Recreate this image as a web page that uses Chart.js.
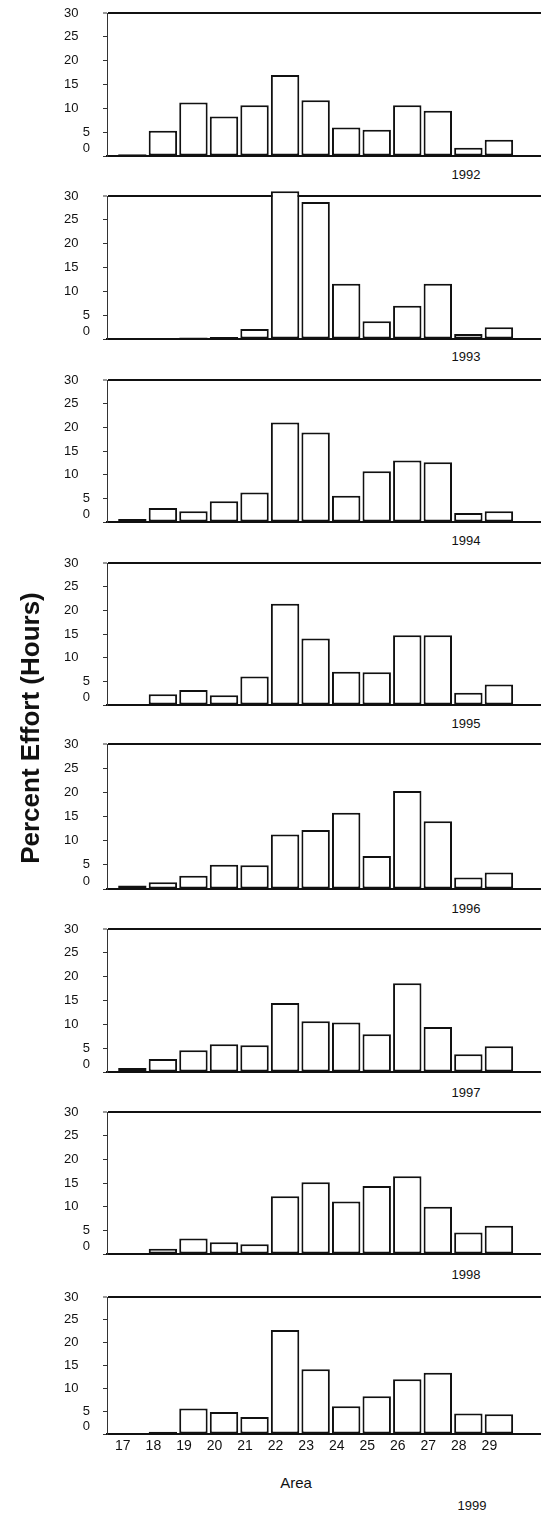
<!DOCTYPE html>
<html><head><meta charset="utf-8">
<script src="https://cdn.jsdelivr.net/npm/chart.js@4.4.1/dist/chart.umd.min.js"></script>
<style>
html,body{margin:0;padding:0;background:#fff;overflow:hidden;width:541px;height:1513px;position:relative;}
.panel{position:absolute;left:0;}
.lbl{position:absolute;font-family:"Liberation Sans",Arial,sans-serif;color:#111;white-space:nowrap;text-align:center;}
</style></head><body>
<script>
// ---- data ----
const areas = [17,18,19,20,21,22,23,24,25,26,27,28,29];
const xTickLabels = ['17','18','19','20','21','22','23','24','25','26','27','28','29'];
const yTickValues = [0,5,10,15,20,25,30];
const yTickLabels = ['0','5','10','15','20','25','30'];
const years = ['1992','1993','1994','1995','1996','1997','1998','1999'];
const effort1992 = [0.35,5.3,11.2,8.3,10.65,17.0,11.7,6.0,5.5,10.65,9.5,1.75,3.4];
const effort1993 = [0,0,0.3,0.4,2.1,31.0,28.75,11.6,3.7,7.0,11.6,1.05,2.45];
const effort1994 = [0.63,2.95,2.25,4.4,6.25,21.0,18.9,5.55,10.7,13.0,12.6,1.9,2.25];
const effort1995 = [0,2.25,3.15,2.05,6.0,21.4,14.05,7.0,6.9,14.75,14.75,2.6,4.35];
const effort1996 = [0.7,1.4,2.75,5.0,4.9,11.3,12.2,15.8,6.85,20.3,14.0,2.4,3.4];
const effort1997 = [0.85,2.75,4.55,5.8,5.6,14.5,10.65,10.4,7.9,18.6,9.45,3.7,5.4];
const effort1998 = [0,1.1,3.3,2.5,2.05,12.2,15.15,11.1,14.35,16.45,10.0,4.55,5.95];
const effort1999 = [0,0.5,5.6,4.8,3.7,22.8,14.2,6.05,8.25,12.0,13.4,4.5,4.3];
const seriesByYear = [effort1992,effort1993,effort1994,effort1995,effort1996,effort1997,effort1998,effort1999];
const yAxisTitle = 'Percent Effort (Hours)';
const xAxisTitle = 'Area';

// ---- layout ----
const panelTop  = [13,196,380,563,744,929,1112,1297];
const panelBase = [156,339,522,705,889,1072,1254,1434];
const yearX = [466,466,466,466,466,466,466,472];
const yearY = [174,356,540,723,908,1092,1274,1505];
const PAD_TOP = 8, CANVAS_W = 560, Y_W = 107;
const FONT = '"Liberation Sans", Arial, sans-serif';

const yLabelPlugin = {
  id: 'yLabels',
  afterDraw(chart) {
    const s = chart.scales.y, ctx = chart.ctx;
    ctx.save();
    ctx.font = '13px ' + FONT;
    ctx.fillStyle = '#111';
    ctx.textAlign = 'right';
    ctx.textBaseline = 'middle';
    yTickValues.forEach((v, i) => {
      const x = v < 10 ? s.right - 17 : s.right - 28.5;
      const y = s.getPixelForValue(v) - (v === 0 ? 8 : 0);
      ctx.fillText(yTickLabels[i], x, y);
    });
    ctx.restore();
  }
};

function addLabel(text, cx, cy, size, weight) {
  const d = document.createElement('div');
  d.className = 'lbl';
  d.textContent = text;
  d.style.fontSize = size + 'px';
  d.style.lineHeight = size + 'px';
  d.style.fontWeight = weight || 'normal';
  d.style.width = '120px';
  d.style.left = (cx - 60) + 'px';
  d.style.top = (cy - size / 2) + 'px';
  document.body.appendChild(d);
  return d;
}

seriesByYear.forEach((vals, p) => {
  const last = p === seriesByYear.length - 1;
  const xh = last ? 30 : 2;
  const h = PAD_TOP + (panelBase[p] - panelTop[p]) + xh;
  const wrap = document.createElement('div');
  wrap.className = 'panel';
  wrap.style.top = (panelTop[p] - PAD_TOP) + 'px';
  wrap.style.width = CANVAS_W + 'px';
  wrap.style.height = h + 'px';
  const cv = document.createElement('canvas');
  cv.width = CANVAS_W; cv.height = h;
  cv.style.width = CANVAS_W + 'px'; cv.style.height = h + 'px';
  wrap.appendChild(cv);
  document.body.appendChild(wrap);

  new Chart(cv, {
    type: 'bar',
    data: {
      datasets: [{
        data: areas.map((a, i) => ({ x: a, y: vals[i] })),
        backgroundColor: '#ffffff',
        borderColor: '#111111',
        borderWidth: 2,
        borderSkipped: false,
        barPercentage: 0.93,
        categoryPercentage: 1,
        clip: false
      }]
    },
    options: {
      responsive: false,
      animation: false,
      events: [],
      layout: { padding: { top: PAD_TOP, left: 0, right: 0, bottom: 0 } },
      plugins: { legend: { display: false }, tooltip: { enabled: false } },
      scales: {
        x: {
          type: 'linear',
          offset: false,
          min: 16.17,
          max: 31.0,
          afterBuildTicks: (s) => { s.ticks = areas.map(v => ({ value: v })); },
          afterFit: (s) => { s.height = xh; },
          grid: { display: false, drawTicks: false, offset: false },
          border: { display: true, color: '#111', width: 2 },
          ticks: {
            display: last,
            autoSkip: false,
            maxRotation: 0,
            padding: 4,
            labelOffset: -9.5,
            color: '#111',
            font: { family: FONT, size: 14 },
            callback: (v) => { const i = areas.indexOf(v); return i >= 0 ? xTickLabels[i] : ''; }
          }
        },
        y: {
          min: 0, max: 30,
          afterFit: (s) => { s.width = Y_W; },
          ticks: { display: false, stepSize: 5 },
          grid: {
            drawOnChartArea: true,
            drawTicks: true,
            tickLength: 4,
            color: (c) => (c.tick && c.tick.value === 30) ? '#111' : 'rgba(0,0,0,0)',
            lineWidth: (c) => (c.tick && c.tick.value === 30) ? 2 : 1,
            tickColor: '#333',
            tickWidth: 1
          },
          border: { display: true, color: '#333', width: 1 }
        }
      }
    },
    plugins: [yLabelPlugin]
  });

  addLabel(years[p], yearX[p], yearY[p], 13);
});

addLabel(xAxisTitle, 296, 1482, 15);
const t = addLabel(yAxisTitle, 30, 728, 26, 'bold');
t.style.width = '400px';
t.style.left = (30 - 200) + 'px';
t.style.transform = 'rotate(-90deg)';
t.style.transformOrigin = '50% 50%';
</script>
</body></html>
